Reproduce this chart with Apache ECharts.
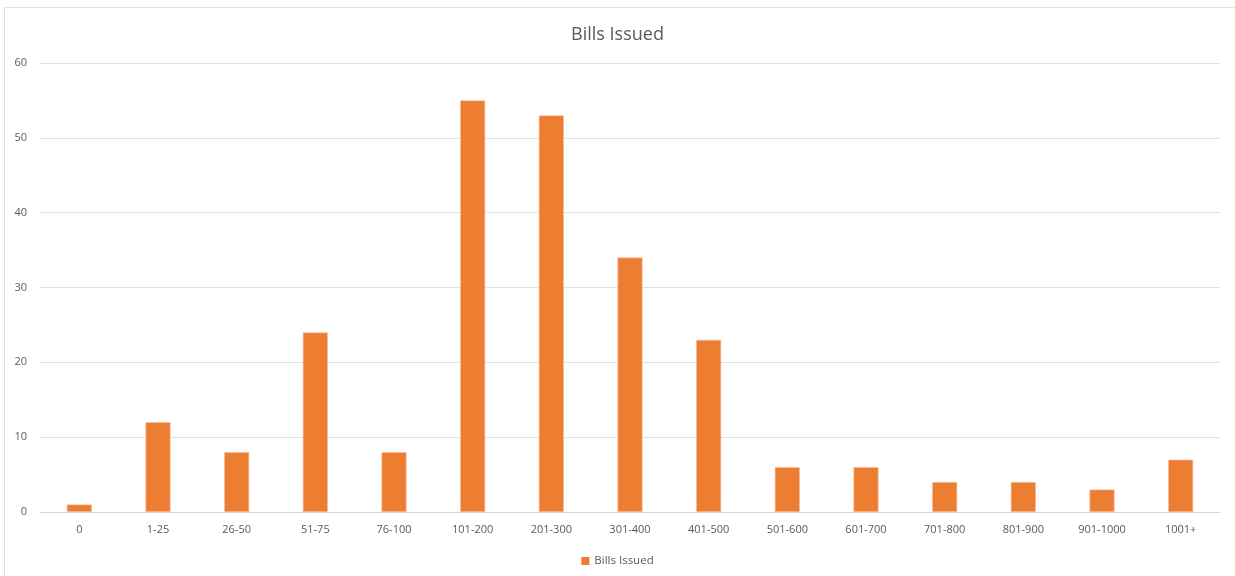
<!DOCTYPE html>
<html>
<head>
<meta charset="utf-8">
<script src="https://cdn.jsdelivr.net/npm/echarts@6/dist/echarts.min.js"></script>
<style>
  html, body { margin: 0; padding: 0; background: #fff; overflow: hidden; }
  #frame { position: absolute; left: 4px; top: 7px; width: 1250px; height: 600px;
           border: 1.5px solid #e3e3e3; box-sizing: border-box; }
  #chart { position: absolute; left: 0; top: 0; width: 1235px; height: 576px; }
</style>
</head>
<body>
<div id="frame"></div>
<div id="chart"></div>
<script>
// Bill count buckets and how many bills fell in each
const categories = ['0', '1-25', '26-50', '51-75', '76-100', '101-200', '201-300', '301-400',
  '401-500', '501-600', '601-700', '701-800', '801-900', '901-1000', '1001+'];
const billsIssued = [1, 12, 8, 24, 8, 55, 53, 34, 23, 6, 6, 4, 4, 3, 7];
const seriesName = 'Bills Issued';

const font = "'Open Sans', 'Liberation Sans', sans-serif";
const chart = echarts.init(document.getElementById('chart'), null, { renderer: 'canvas' });
chart.setOption({
  animation: false,
  title: {
    text: 'Bills Issued', left: 'center', top: 21,
    textStyle: { fontFamily: font, fontSize: 18, fontWeight: 'normal', color: '#595959' }
  },
  legend: {
    bottom: 4, left: 'center', itemWidth: 8, itemHeight: 8, itemGap: 4,
    icon: 'rect',
    itemStyle: { borderWidth: 0 },
    textStyle: { fontFamily: font, fontSize: 11.5, color: '#595959' },
    data: [seriesName]
  },
  grid: { left: 40, right: 15, top: 63, bottom: 64 },
  xAxis: {
    type: 'category', data: categories,
    axisLine: { lineStyle: { color: '#d9d9d9', width: 1 } },
    axisTick: { show: false },
    axisLabel: { fontFamily: font, fontSize: 11, color: '#595959', margin: 12 }
  },
  yAxis: {
    type: 'value', min: 0, max: 60, interval: 10,
    axisLine: { show: false }, axisTick: { show: false },
    splitLine: { lineStyle: { color: '#e0e0e0', width: 1 } },
    axisLabel: { fontFamily: font, fontSize: 11, color: '#595959', margin: 13, align: 'right' }
  },
  series: [{
    name: seriesName, type: 'bar', data: billsIssued, barWidth: 25,
    itemStyle: { color: '#ED7D31', borderColor: '#f6c3a3', borderWidth: 0.6 }
  }]
});
</script>
</body>
</html>
